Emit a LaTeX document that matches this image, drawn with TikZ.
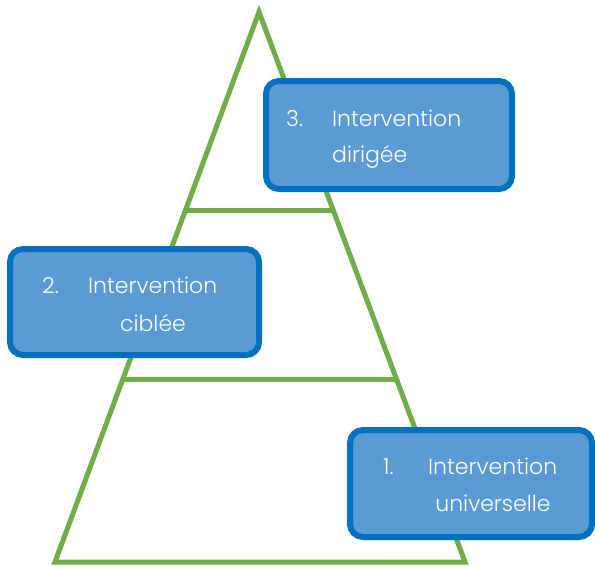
\documentclass[tikz,border=0pt]{standalone}
\usepackage{fontspec}
\setmainfont{Poppins Light}
\usetikzlibrary{calc}
\definecolor{pyrgreen}{HTML}{70AD47}
\definecolor{boxfill}{HTML}{5B9BD5}
\definecolor{boxedge}{HTML}{0070C0}
\tikzset{
  level/.style={draw=pyrgreen, line width=5pt},
  box/.style={draw=boxedge, fill=boxfill, line width=6pt, rounded corners=13pt, inner sep=0pt},
  lbl/.style={text=white, font=\fontsize{22}{26}\selectfont, inner sep=0pt},
}
\begin{document}
\begin{tikzpicture}[x=1pt, y=-1pt]
\useasboundingbox (0,0) rectangle (595,566);
\coordinate (apex) at (259,12);
\coordinate (bl) at (55,562);
\coordinate (br) at (465,562);
\draw[level, line join=miter] (apex) -- (br) -- (bl) -- cycle;
\draw[level] ($(apex)!0.3618!(bl)$) -- ($(apex)!0.3618!(br)$);
\draw[level] ($(apex)!0.6673!(bl)$) -- ($(apex)!0.6673!(br)$);
% boxes
\node[box, minimum width=246pt, minimum height=108pt] (b3) at (389,135) {};
\node[box, minimum width=249pt, minimum height=106pt] (b2) at (134.5,302) {};
\node[box, minimum width=242pt, minimum height=107pt] (b1) at (471,483.5) {};
% texts
\node[lbl, anchor=base west] (n3) at (286,126) {3.};
\node[lbl, anchor=base west] (t3a) at (332,126) {Intervention};
\node[lbl, anchor=base west] (t3b) at (332,162) {dirigée};
\node[lbl, anchor=base west] (n2) at (42,293) {2.};
\node[lbl, anchor=base west] (t2a) at (88,293) {Intervention};
\node[lbl, anchor=base] (t2b) at (153,331) {ciblée};
\node[lbl, anchor=base west] (n1) at (383,474) {1.};
\node[lbl, anchor=base west] (t1a) at (428,474) {Intervention};
\node[lbl, anchor=base] (t1b) at (493,511) {universelle};
\end{tikzpicture}
\end{document}
